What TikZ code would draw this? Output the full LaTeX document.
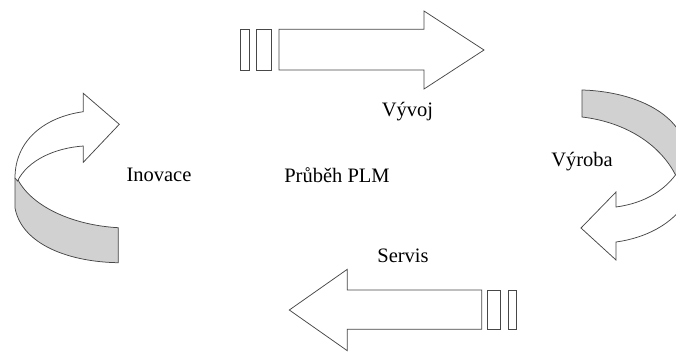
\documentclass[tikz,border=0pt]{standalone}
\usepackage{fontspec}
\setmainfont{Liberation Serif}
\begin{document}
\begin{tikzpicture}[x=1pt,y=-1pt,
  outline/.style={draw=black!72, line width=0.75pt, line join=miter},
  front/.style={outline, fill=white},
  back/.style={outline, fill=black!18},
  label/.style={anchor=base, inner sep=0pt, font=\fontsize{20.5}{24}\selectfont}]
\useasboundingbox (0,0) rectangle (676,354);
\clip (0,0) rectangle (676,354);

% straight arrow to the right (Vývoj)
\draw[front] (240.7,29.3) rectangle (249.3,70);
\draw[front] (256.7,29.3) rectangle (271.7,70);
\draw[front] (279,29.3) -- (424,29.3) -- (424,11) -- (484,50) -- (424,89)
  -- (424,70) -- (279,70) -- cycle;

% straight arrow to the left (Servis)
\draw[front] (487.3,290) rectangle (500.7,329.3);
\draw[front] (508.7,290) rectangle (516.7,329.3);
\draw[front] (481.7,290) -- (347.3,290) -- (347.3,269.3) -- (289.3,310)
  -- (347.3,350.7) -- (347.3,329.3) -- (481.7,329.3) -- cycle;

% curved arrow on the left (Inovace): back band and front face
\draw[back] (15,178) -- (15,208)
  .. controls (22,245) and (70,262) .. (118.3,262.7)
  -- (118.3,227.7)
  .. controls (70,225) and (30,205) .. (17,178) -- cycle;
\draw[front] (83.3,146) -- (83.3,162.3) -- (119.3,124.3) -- (83.3,93.3)
  -- (83.3,111.7)
  .. controls (45,117) and (15,140) .. (15,178)
  -- (17.5,181)
  .. controls (28,160) and (55,148) .. (83.3,146) -- cycle;

% curved arrow on the right (Výroba): back band and front face
\draw[back] (582,90)
  .. controls (620,91) and (668,104) .. (684,140)
  -- (692,185) -- (680,185)
  .. controls (665,145) and (625,122) .. (582,117) -- cycle;
\draw[front] (616,207) -- (616,192) -- (581,228) -- (616,260) -- (616,242)
  .. controls (645,238) and (672,225) .. (688,200)
  -- (692,165) -- (682,165)
  .. controls (668,190) and (645,203) .. (616,207) -- cycle;

% labels
\node[label] (vyvoj)   at (407.5,116.7) {Vývoj};
\node[label] (vyroba)  at (582,166.7)   {Výroba};
\node[label] (servis)  at (403,262.3)   {Servis};
\node[label] (inovace) at (159,181.7)   {Inovace};
\node[label] (plm)     at (337,182)     {Průběh PLM};
\end{tikzpicture}
\end{document}
